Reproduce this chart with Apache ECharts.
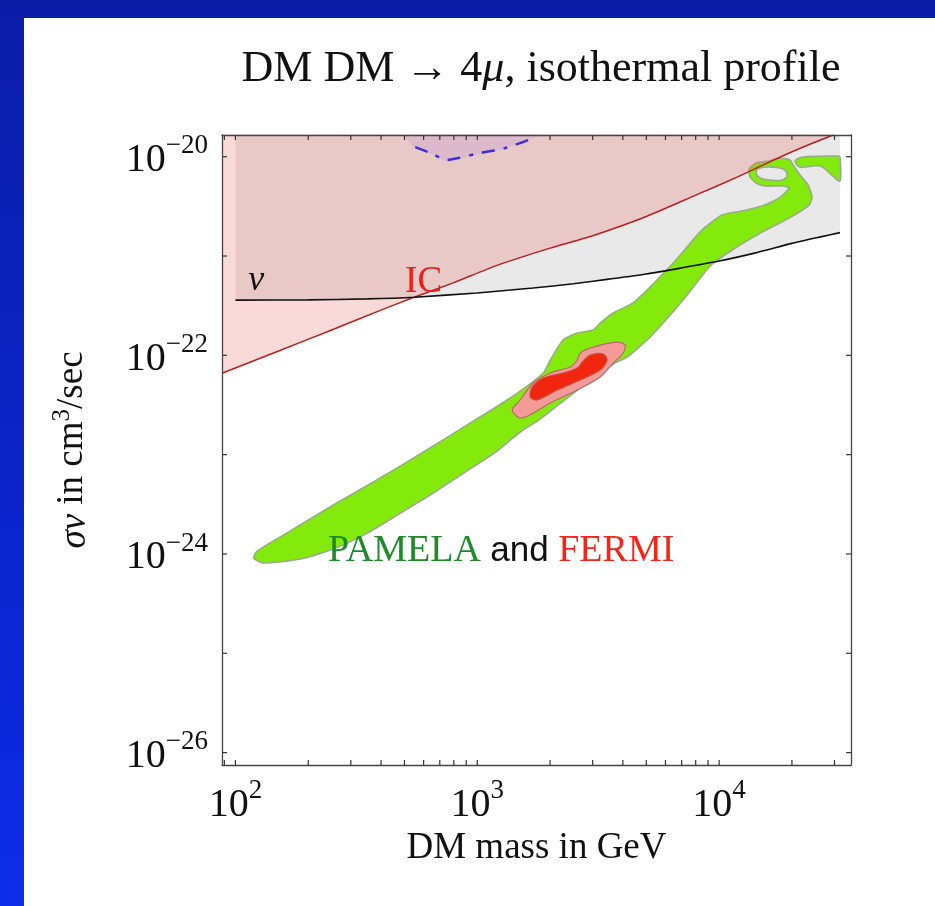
<!DOCTYPE html>
<html>
<head>
<meta charset="utf-8">
<title>DM DM → 4μ, isothermal profile</title>
<style>
    html,body{margin:0;padding:0;}
    body{width:935px;height:906px;overflow:hidden;background:linear-gradient(to bottom,#0a1ca6,#0c2ce8);}
    /* white slide panel, blue frame only on top and left */
    #chart{position:absolute;left:24px;top:18px;width:911px;height:888px;background:#fff;}
</style>
</head>
<body>
<div id="chart"></div>
<script src="https://cdn.jsdelivr.net/npm/echarts@6/dist/echarts.min.js"></script>
<script>
    // axis ranges (GeV, cm^3/sec)
    var X_MIN = 88, X_MAX = 35100;
    var Y_MIN = 7.5e-27, Y_MAX = 1.654e-20;

    // tick marks
    var xTicks = [90, 100, 200, 300, 400, 500, 600, 700, 800, 900,
        1000, 2000, 3000, 4000, 5000, 6000, 7000, 8000, 9000, 10000, 20000, 30000];
    var yTicks = [1e-26, 1e-25, 1e-24, 1e-23, 1e-22, 1e-21, 1e-20];

    // IC bound (red line), excluded above
    var icLine = [[88, 6.6e-23], [150, 1.1e-22], [250, 1.8e-22], [400, 2.85e-22], [541, 3.8e-22],
        [800, 5.4e-22], [1200, 8.0e-22], [2000, 1.2e-21], [3000, 1.6e-21], [5000, 2.5e-21],
        [8000, 4.1e-21], [12000, 6.3e-21], [18000, 1.0e-20], [24000, 1.35e-20], [29600, 1.654e-20]];

    // neutrino bound (black line), excluded above
    var nuLine = [[100, 3.60e-22], [200, 3.62e-22], [350, 3.70e-22], [550, 3.85e-22], [1000, 4.25e-22],
        [1700, 4.76e-22], [2500, 5.25e-22], [3500, 5.85e-22], [5000, 6.6e-22], [7000, 7.6e-22],
        [10000, 8.9e-22], [14000, 1.07e-21], [20000, 1.34e-21], [26000, 1.55e-21], [31600, 1.72e-21]];

    // PAMELA allowed band (outline, incl. the loop near the top)
    var pamelaBand = [[119, 9.09e-25], [130, 8.10e-25], [186, 8.88e-25], [254, 1.12e-24], [351, 1.62e-24],
        [481, 2.58e-24], [658, 4.11e-24], [892, 6.68e-24], [1209, 1.087e-23], [1505, 1.69e-23],
        [1821, 2.28e-23], [2565, 4.37e-23], [3648, 8.17e-23], [4167, 9.61e-23], [5186, 1.53e-22],
        [7100, 3.61e-22], [9270, 8.12e-22], [11650, 1.20e-21], [15050, 1.74e-21], [19470, 2.41e-21],
        [23540, 3.26e-21], [24230, 3.93e-21], [23320, 5.19e-21], [21610, 6.54e-21], [20220, 8.25e-21],
        [19660, 9.26e-21], [17870, 9.70e-21], [16090, 9.05e-21], [14220, 8.64e-21], [13300, 7.52e-21],
        [13430, 6.25e-21], [14220, 5.43e-21], [15490, 5.07e-21], [18210, 5.07e-21], [19470, 4.84e-21],
        [17700, 3.84e-21], [15050, 3.19e-21], [12450, 2.84e-21], [10290, 2.59e-21], [8430, 1.79e-21],
        [6520, 8.70e-22], [4456, 3.44e-22], [3648, 2.67e-22], [3222, 2.11e-22], [3015, 1.80e-22],
        [2590, 1.68e-22], [2267, 1.43e-22], [2003, 8.97e-23], [1874, 6.64e-23], [1369, 3.72e-23],
        [892, 1.94e-23], [581, 1.014e-23], [372, 5.30e-24], [254, 3.11e-24],
        [158, 1.55e-24], [123, 1.07e-24]];
    var pamelaHole = [[14220, 7.02e-21], [14770, 6.10e-21], [16240, 5.83e-21], [18210, 5.83e-21],
        [19100, 6.54e-21], [18390, 7.52e-21], [16240, 7.87e-21], [14770, 7.69e-21]];
    var pamelaCorner = [[20610, 9.05e-21], [22230, 9.93e-21], [31020, 1.016e-20], [31620, 9.93e-21],
        [31620, 5.69e-21], [29580, 6.39e-21], [26150, 8.06e-21], [21610, 7.87e-21]];

    // FERMI regions
    var fermiOuter = [[1505, 2.34e-23], [1395, 2.81e-23], [1505, 3.55e-23], [1703, 5.26e-23], [2003, 6.64e-23],
        [2423, 7.62e-23], [2590, 8.97e-23], [2665, 1.055e-22], [3015, 1.21e-22], [3789, 1.36e-22],
        [4089, 1.27e-22], [4012, 1.055e-22], [3648, 8.36e-23], [3222, 6.05e-23], [2590, 4.47e-23],
        [2003, 3.31e-23], [1703, 2.62e-23]];
    var fermiInner = [[1656, 3.80e-23], [1688, 4.80e-23], [1874, 5.91e-23], [2267, 6.64e-23], [2590, 7.45e-23],
        [2716, 8.56e-23], [2931, 1.007e-22], [3317, 1.03e-22], [3445, 8.97e-23], [3222, 7.11e-23],
        [2665, 5.64e-23], [2141, 4.47e-23], [1770, 3.55e-23]];

    // region at the top with the dash-dotted blue edge
    var topRegion = [[500, 1.654e-20], [504, 1.58e-20], [554, 1.23e-20], [640, 1.07e-20], [752, 9.0e-21],
        [835, 9.4e-21], [1029, 1.07e-20], [1305, 1.21e-20], [1703, 1.53e-20], [1790, 1.654e-20]];
    var topEdge = [[554, 1.25e-20], [640, 1.09e-20], [752, 9.26e-21], [835, 9.70e-21], [1029, 1.09e-20],
        [1305, 1.22e-20], [1703, 1.54e-20]];

    // text notes
    var noteMass = [122, 600, 1256];
    var noteSigma = [5.73e-22, 5.47e-22, 1.07e-24];
    var noteText = ['{nu|ν}', '{ic|IC}', '{pa|PAMELA }{and|and}{fe| FERMI}'];

    var SERIF = 'Liberation Serif';
    var TICK = 5;

    function isPow10(v) {
        var e = Math.log10(v);
        return Math.abs(e - Math.round(e)) < 1e-6;
    }

    function polygonSeries(name, pts, style, z, smooth) {
        return {
            type: 'custom', name: name, z: z, silent: true, data: pts,
            renderItem: function (params, api) {
                if (params.dataIndex !== 0) return null;
                var points = pts.map(function (p) { return api.coord(p); });
                return {type: 'polygon', shape: {points: points, smooth: smooth || 0}, style: style};
            }
        };
    }

    var myChart = echarts.init(document.getElementById('chart'));

    var axisLine = {show: true, onZero: false, lineStyle: {color: '#444', width: 1.3}};

    var option = {
        animation: false,
        title: {
            text: 'DM DM → 4{i|μ}, isothermal profile',
            left: 512, top: 24, textAlign: 'center',
            textStyle: {
                fontFamily: SERIF, fontSize: 44, fontWeight: 'normal', color: '#111',
                rich: {i: {fontFamily: SERIF, fontSize: 44, fontStyle: 'italic', color: '#111'}}
            }
        },
        grid: {left: 198, top: 117, right: 84, bottom: 141},
        xAxis: [{
            type: 'log', min: X_MIN, max: X_MAX, position: 'bottom', z: 8,
            axisLine: axisLine, axisTick: {show: false}, splitLine: {show: false}, minorTick: {show: false},
            axisLabel: {
                margin: 12, showMinLabel: false, showMaxLabel: false,
                formatter: function (v) {
                    if (!isPow10(v)) return '';
                    return '{b|10}{s|' + Math.round(Math.log10(v)) + '}';
                },
                rich: {
                    b: {fontFamily: SERIF, fontSize: 40, color: '#111', lineHeight: 48, verticalAlign: 'bottom'},
                    s: {fontFamily: SERIF, fontSize: 27, color: '#111', lineHeight: 27, verticalAlign: 'top'}
                }
            },
            name: 'DM mass in GeV', nameLocation: 'middle', nameGap: 42,
            nameTextStyle: {fontFamily: SERIF, fontSize: 37, color: '#111'}
        }, {
            type: 'log', min: X_MIN, max: X_MAX, position: 'top', z: 8,
            axisLine: axisLine, axisTick: {show: false}, splitLine: {show: false}, axisLabel: {show: false}
        }],
        yAxis: [{
            type: 'log', min: Y_MIN, max: Y_MAX, position: 'left', z: 8,
            axisLine: axisLine, axisTick: {show: false}, splitLine: {show: false}, minorTick: {show: false},
            axisLabel: {
                margin: 14, showMinLabel: false, showMaxLabel: false,
                formatter: function (v) {
                    if (!isPow10(v)) return '';
                    var e = Math.round(Math.log10(v));
                    if (e % 2 !== 0) return '';
                    return '{b|10}{s|\u2212' + (-e) + '}';
                },
                rich: {
                    b: {fontFamily: SERIF, fontSize: 40, color: '#111', lineHeight: 48, verticalAlign: 'bottom'},
                    s: {fontFamily: SERIF, fontSize: 27, color: '#111', lineHeight: 27, verticalAlign: 'top'}
                }
            },
            name: '{i|σv} in cm{s|3}/sec', nameLocation: 'middle', nameGap: 128, nameRotate: 90,
            nameTextStyle: {
                fontFamily: SERIF, fontSize: 37, color: '#111',
                rich: {
                    i: {fontFamily: SERIF, fontSize: 37, fontStyle: 'italic', color: '#111', lineHeight: 44, verticalAlign: 'bottom'},
                    s: {fontFamily: SERIF, fontSize: 25, color: '#111', lineHeight: 25, verticalAlign: 'top'}
                }
            }
        }, {
            type: 'log', min: Y_MIN, max: Y_MAX, position: 'right', z: 8,
            axisLine: axisLine, axisTick: {show: false}, splitLine: {show: false}, axisLabel: {show: false}
        }],
        series: [
            // neutrino excluded region (grey)
            {
                type: 'line', name: 'nu area', data: nuLine, z: 1, silent: true, showSymbol: false,
                lineStyle: {width: 0, opacity: 0},
                areaStyle: {color: '#e9e9e9', opacity: 1, origin: 'end'}
            },
            polygonSeries('PAMELA', pamelaBand, {fill: '#84ea0c', stroke: '#97ad86', lineWidth: 1.6}, 2, 0.2),
            polygonSeries('PAMELA corner', pamelaCorner, {fill: '#84ea0c', stroke: '#97ad86', lineWidth: 1.6}, 2, 0.3),
            polygonSeries('PAMELA hole', pamelaHole, {fill: '#e9e9e9', stroke: '#97ad86', lineWidth: 1.6}, 3, 0.4),
            polygonSeries('FERMI outer', fermiOuter, {fill: '#f49a98', stroke: '#b86a68', lineWidth: 1.2}, 3, 0.3),
            polygonSeries('FERMI inner', fermiInner, {fill: '#f2260e', stroke: '#c4523c', lineWidth: 1.2}, 3, 0.3),
            // IC excluded region (pink) and its edge
            {
                type: 'line', name: 'IC', data: icLine, z: 4, silent: true, showSymbol: false, smooth: 0.2,
                lineStyle: {color: '#b82020', width: 1.5},
                areaStyle: {color: 'rgba(234,105,105,0.36)', origin: 'end'}
            },
            polygonSeries('top region', topRegion, {fill: 'rgba(170,130,220,0.2)'}, 4, 0.3),
            {
                type: 'line', name: 'top edge', data: topEdge, z: 5, silent: true, showSymbol: false, smooth: 0.3,
                lineStyle: {color: '#3a30d8', width: 2.5, type: [13, 9, 4, 9]}
            },
            {
                type: 'line', name: 'nu', data: nuLine, z: 5, silent: true, showSymbol: false, smooth: 0.2,
                lineStyle: {color: '#111', width: 1.6}
            },
            // frame ticks
            {
                type: 'custom', name: 'x ticks', z: 9, silent: true,
                data: xTicks.map(function (v) { return [v, Y_MIN]; }),
                renderItem: function (params, api) {
                    var cs = params.coordSys;
                    var x = api.coord([api.value(0), Y_MIN])[0];
                    var st = {stroke: '#333', lineWidth: 1.2};
                    return {type: 'group', children: [
                        {type: 'line', shape: {x1: x, y1: cs.y + cs.height, x2: x, y2: cs.y + cs.height - TICK}, style: st},
                        {type: 'line', shape: {x1: x, y1: cs.y, x2: x, y2: cs.y + TICK}, style: st}
                    ]};
                }
            },
            {
                type: 'custom', name: 'y ticks', z: 9, silent: true,
                data: yTicks.map(function (v) { return [X_MIN, v]; }),
                renderItem: function (params, api) {
                    var cs = params.coordSys;
                    var y = api.coord([X_MIN, api.value(1)])[1];
                    var st = {stroke: '#333', lineWidth: 1.2};
                    return {type: 'group', children: [
                        {type: 'line', shape: {x1: cs.x, y1: y, x2: cs.x + TICK, y2: y}, style: st},
                        {type: 'line', shape: {x1: cs.x + cs.width, y1: y, x2: cs.x + cs.width - TICK, y2: y}, style: st}
                    ]};
                }
            },
            // text notes
            {
                type: 'custom', name: 'notes', z: 10, silent: true,
                data: noteMass.map(function (m, i) { return [m, noteSigma[i]]; }),
                renderItem: function (params, api) {
                    var p = api.coord([api.value(0), api.value(1)]);
                    return {
                        type: 'text', x: p[0], y: p[1],
                        style: {
                            text: noteText[params.dataIndex], align: 'center', verticalAlign: 'middle',
                            rich: {
                                nu: {fontFamily: SERIF, fontSize: 36, fontStyle: 'italic', fill: '#111'},
                                ic: {fontFamily: SERIF, fontSize: 37, fill: '#ee2016'},
                                pa: {fontFamily: SERIF, fontSize: 38, fill: '#1d8a2c'},
                                and: {fontFamily: 'Liberation Sans', fontSize: 35, fill: '#111'},
                                fe: {fontFamily: SERIF, fontSize: 38, fill: '#f0261a'}
                            }
                        }
                    };
                }
            }
        ]
    };

    myChart.setOption(option);
</script>
</body>
</html>
